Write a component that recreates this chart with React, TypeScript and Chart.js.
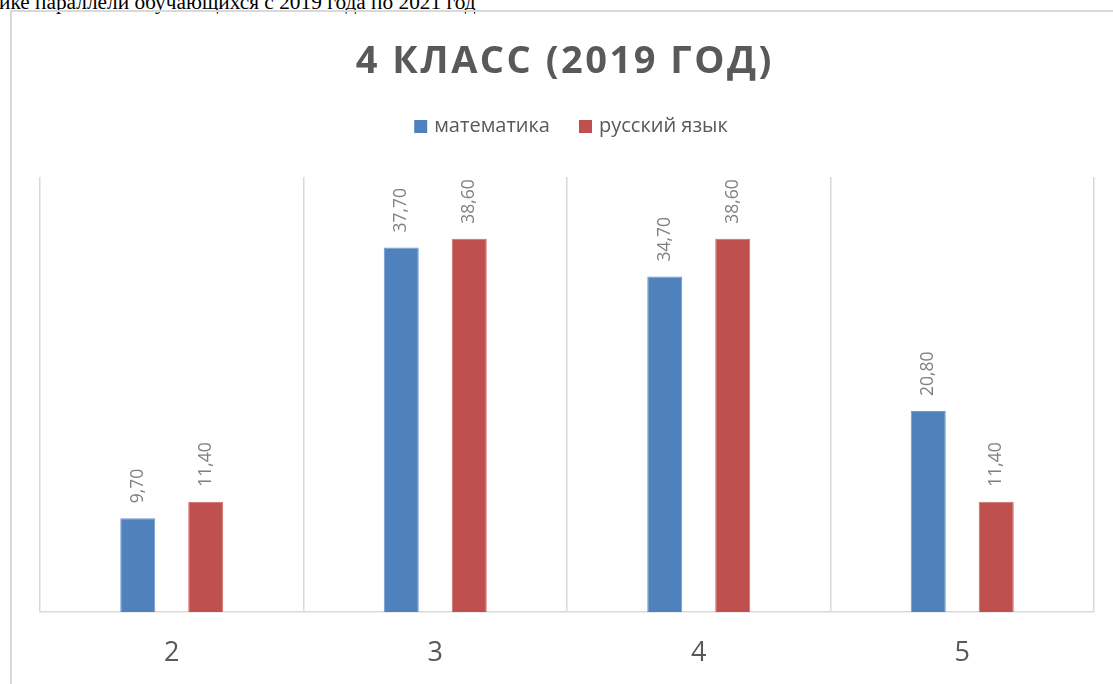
import React, { useEffect, useRef } from "react";
import { Chart, registerables } from "chart.js";

Chart.register(...registerables);

const categories = ["2", "3", "4", "5"];
const seriesNames = ["математика", "русский язык"];
const mathValues = [9.7, 37.7, 34.7, 20.8];
const russianValues = [11.4, 38.6, 38.6, 11.4];
const seriesColors = ["#4f81bd", "#c0504d"];
const seriesBorders = ["#6f98cc", "#cc6b68"];
const chartTitle = "4 КЛАСС (2019 ГОД)";
const pageText = "ике параллели обучающихся с 2019 года по 2021 год";
const yMin = 0;
const yMax = 45;

const FONT = "'Open Sans', 'Noto Sans', sans-serif";

const titlePlugin = {
  id: "customTitle",
  afterDraw(chart: any) {
    const ctx = chart.ctx;
    const a = chart.chartArea;
    ctx.save();
    ctx.font = `bold 38px ${FONT}`;
    (ctx as any).letterSpacing = "2.5px";
    ctx.fillStyle = "#595959";
    ctx.textAlign = "center";
    ctx.textBaseline = "alphabetic";
    ctx.fillText(chartTitle, (a.left + a.right) / 2 - 3.5 + 1.25, 73);
    ctx.restore();
  },
};

const legendPlugin = {
  id: "customLegend",
  afterDraw(chart: any) {
    const ctx = chart.ctx;
    const a = chart.chartArea;
    const cy = 126.5;
    const box = 13;
    const gap = 7;
    const spacing = 29;
    ctx.save();
    ctx.font = `20px ${FONT}`;
    ctx.textAlign = "left";
    ctx.textBaseline = "middle";
    const items = chart.data.datasets.map((ds: any) => ({
      text: ds.label as string,
      color: ds.backgroundColor as string,
    }));
    const widths = items.map((it: any) => box + gap + ctx.measureText(it.text).width);
    const total = widths.reduce((s: number, w: number) => s + w, 0) + spacing * (items.length - 1);
    let x = (a.left + a.right) / 2 + 4 - total / 2;
    items.forEach((it: any, i: number) => {
      ctx.fillStyle = it.color;
      ctx.fillRect(x, cy - box / 2, box, box);
      ctx.fillStyle = "#595959";
      ctx.fillText(it.text, x + box + gap, cy);
      x += widths[i] + spacing;
    });
    ctx.restore();
  },
};

const dataLabelPlugin = {
  id: "rotatedLabels",
  afterDatasetsDraw(chart: any) {
    const ctx = chart.ctx;
    ctx.save();
    ctx.font = `17.5px ${FONT}`;
    ctx.fillStyle = "#808080";
    chart.data.datasets.forEach((ds: any, di: number) => {
      const meta = chart.getDatasetMeta(di);
      meta.data.forEach((bar: any, i: number) => {
        const v = ds.data[i] as number;
        const label = v.toFixed(2).replace(".", ",");
        ctx.save();
        ctx.translate(bar.x, bar.y - 15);
        ctx.rotate(-Math.PI / 2);
        ctx.textAlign = "left";
        ctx.textBaseline = "middle";
        ctx.fillText(label, 0, 0);
        ctx.restore();
      });
    });
    ctx.restore();
  },
};

export default function App() {
  const ref = useRef<HTMLCanvasElement>(null);

  useEffect(() => {
    if (!ref.current) return;
    const chart = new Chart(ref.current, {
      type: "bar",
      data: {
        labels: categories,
        datasets: [
          {
            label: seriesNames[0],
            data: mathValues,
            backgroundColor: seriesColors[0],
            borderColor: seriesBorders[0],
            borderWidth: 1,
            categoryPercentage: 0.516,
            barPercentage: 0.515,
          },
          {
            label: seriesNames[1],
            data: russianValues,
            backgroundColor: seriesColors[1],
            borderColor: seriesBorders[1],
            borderWidth: 1,
            categoryPercentage: 0.516,
            barPercentage: 0.515,
          },
        ],
      },
      options: {
        responsive: false,
        devicePixelRatio: 1,
        animation: false,
        layout: { padding: { top: 177, left: 40, right: 19, bottom: 0 } },
        plugins: {
          legend: { display: false },
          title: { display: false },
          tooltip: { enabled: false },
        },
        scales: {
          x: {
            type: "category",
            offset: true,
            afterFit: (scale: any) => {
              scale.height = 72;
            },
            grid: {
              display: true,
              offset: true,
              color: "#d9d9d9",
              lineWidth: 1.5,
              drawTicks: false,
            },
            border: { display: true, color: "#d9d9d9", width: 1.5 },
            ticks: {
              color: "#595959",
              padding: 25,
              font: { family: FONT, size: 27 },
            },
          },
          y: {
            display: false,
            min: yMin,
            max: yMax,
          },
        },
      },
      plugins: [dataLabelPlugin, titlePlugin, legendPlugin],
    } as any);
    return () => chart.destroy();
  }, []);

  return (
    <div
      style={{
        position: "fixed",
        left: 0,
        top: 0,
        width: 1113,
        height: 684,
        overflow: "hidden",
        background: "#ffffff",
      }}
    >
      <div
        style={{
          position: "absolute",
          left: -1,
          top: -7.6,
          fontFamily: "'Liberation Serif', 'Times New Roman', serif",
          fontSize: "21.33px",
          lineHeight: "21px",
          whiteSpace: "nowrap",
          color: "#000",
        }}
      >
        {pageText}
      </div>
      <div
        style={{
          position: "absolute",
          left: 10,
          top: 10,
          width: 2,
          height: 674,
          background: "#d9d9d9",
        }}
      />
      <div
        style={{
          position: "absolute",
          left: 10,
          top: 10,
          width: 1103,
          height: 2,
          background: "#d9d9d9",
        }}
      />
      <canvas
        ref={ref}
        width={1113}
        height={684}
        style={{ position: "absolute", left: 0, top: 0, width: 1113, height: 684 }}
      />
    </div>
  );
}
